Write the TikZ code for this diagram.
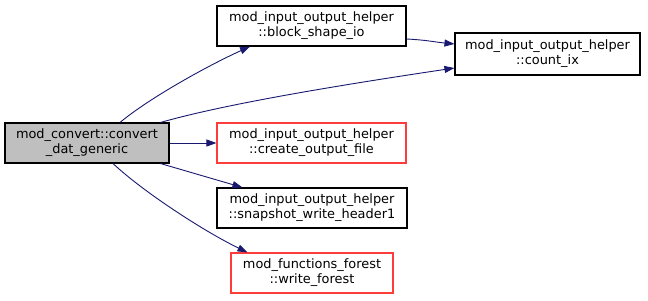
\documentclass[tikz,border=0pt]{standalone}
\usepackage{fontspec}
\setmainfont{DejaVu Sans}
\usetikzlibrary{arrows.meta}
\definecolor{edgeblue}{HTML}{191970}
\definecolor{nodegray}{HTML}{BFBFBF}
\definecolor{nodered}{HTML}{FF3B3B}
\tikzset{
  fn/.style={draw=black, line width=1.1pt, rectangle, align=center, inner sep=0pt,
    minimum height=40pt, font=\fontsize{12.9}{15}\selectfont, text=black},
  fnred/.style={fn, draw=nodered},
  edge/.style={draw=edgeblue, line width=0.9pt, -{Triangle[length=10pt,width=7pt]}}
}
\begin{document}
\begin{tikzpicture}[x=1pt,y=-1pt]
\useasboundingbox (0,0) rectangle (648,300);
\node[fn, fill=nodegray, minimum width=164pt] (conv) at (87,143) {mod\_convert::convert\\\_dat\_generic};
\node[fn, minimum width=189pt] (bsio) at (311.5,26) {mod\_input\_output\_helper\\::block\_shape\_io};
\node[fn, minimum width=185pt, minimum height=42pt] (cix) at (547.5,54) {mod\_input\_output\_helper\\::count\_ix};
\node[fnred, minimum width=189pt] (cof) at (311.5,143) {mod\_input\_output\_helper\\::create\_output\_file};
\node[fn, minimum width=190pt] (snap) at (312,208) {mod\_input\_output\_helper\\::snapshot\_write\_header1};
\node[fnred, minimum width=162pt] (wf) at (312,273) {mod\_functions\_forest\\::write\_forest};

\draw[edge] ([xshift=33pt]conv.north) .. controls +(30,-25) and +(-40,18) .. ([xshift=-61.5pt]bsio.south);
\draw[edge] ([yshift=-13pt]bsio.east) .. controls +(20,1) and +(-20,-2) .. ([yshift=10pt]cix.west);
\draw[edge] ([xshift=-9pt]conv.north east) .. controls +(70,-20) and +(-100,15) .. ([yshift=-14pt]cix.west);
\draw[edge] (conv.east) -- (cof.west);
\draw[edge] ([xshift=-9pt]conv.south east) -- ([xshift=26pt]snap.north west);
\draw[edge] ([xshift=26pt]conv.south) .. controls +(30,28) and +(-45,-22) .. ([xshift=17pt]wf.north west);
\end{tikzpicture}
\end{document}
